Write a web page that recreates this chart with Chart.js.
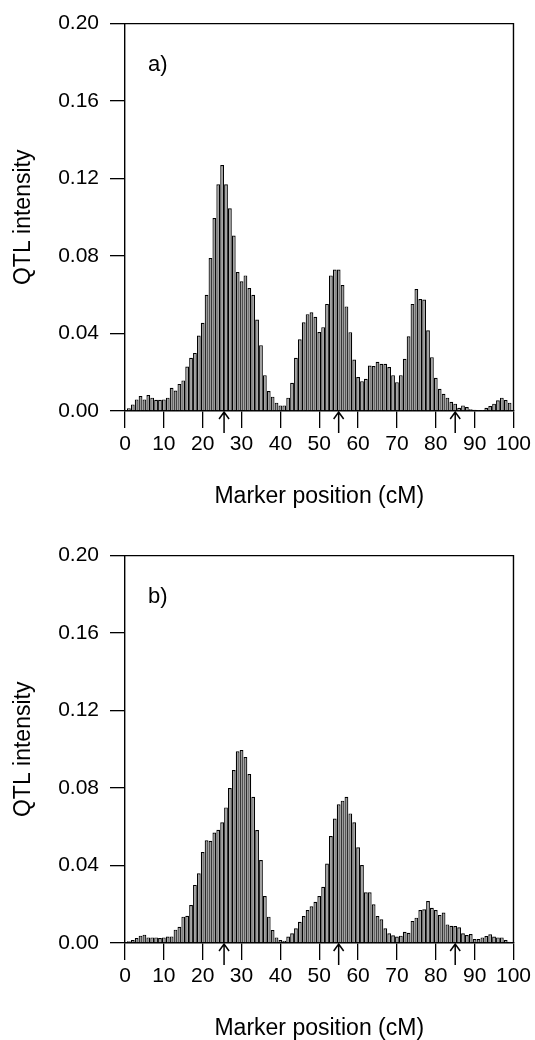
<!DOCTYPE html>
<html>
<head>
<meta charset="utf-8">
<script src="https://cdn.jsdelivr.net/npm/chart.js@4/dist/chart.umd.min.js"></script>
<style>
  html, body { margin: 0; padding: 0; background: #fff; overflow: hidden; }
  canvas { display: block; }
</style>
</head>
<body>
<canvas id="panel-a" width="535" height="532"></canvas>
<canvas id="panel-b" width="535" height="532"></canvas>
<script>
// Marker positions (cM), one bar per position
const positions = [
  1, 2, 3, 4, 5, 6, 7, 8, 9, 10, 11, 12, 13, 14, 15, 16, 17, 18, 19, 20,
  21, 22, 23, 24, 25, 26, 27, 28, 29, 30, 31, 32, 33, 34, 35, 36, 37, 38, 39, 40,
  41, 42, 43, 44, 45, 46, 47, 48, 49, 50, 51, 52, 53, 54, 55, 56, 57, 58, 59, 60,
  61, 62, 63, 64, 65, 66, 67, 68, 69, 70, 71, 72, 73, 74, 75, 76, 77, 78, 79, 80,
  81, 82, 83, 84, 85, 86, 87, 88, 89, 90, 91, 92, 93, 94, 95, 96, 97, 98, 99
];

// Panel a) QTL intensity
const intensityA = [
  0.0014, 0.0034, 0.0060, 0.0077, 0.0060, 0.0082, 0.0069, 0.0058, 0.0058, 0.0060,
  0.0069, 0.0120, 0.0106, 0.0140, 0.0158, 0.0230, 0.0275, 0.0300, 0.0390, 0.0455,
  0.0600, 0.0790, 0.0996, 0.1170, 0.1270, 0.1170, 0.1047, 0.0906, 0.0717, 0.0670,
  0.0700, 0.0635, 0.0600, 0.0472, 0.0340, 0.0185, 0.0103, 0.0074, 0.0043, 0.0029,
  0.0029, 0.0069, 0.0146, 0.0275, 0.0370, 0.0458, 0.0500, 0.0510, 0.0486, 0.0408,
  0.0433, 0.0553, 0.0700, 0.0730, 0.0730, 0.0650, 0.0540, 0.0407, 0.0266, 0.0175,
  0.0154, 0.0166, 0.0235, 0.0232, 0.0254, 0.0244, 0.0244, 0.0227, 0.0185, 0.0149,
  0.0185, 0.0270, 0.0386, 0.0553, 0.0630, 0.0578, 0.0575, 0.0417, 0.0278, 0.0172,
  0.0115, 0.0089, 0.0069, 0.0048, 0.0038, 0.0017, 0.0029, 0.0021, 0.0009, 0.0007,
  0.0003, 0.0003, 0.0017, 0.0026, 0.0038, 0.0055, 0.0069, 0.0057, 0.0043
];

// Panel b) QTL intensity
const intensityB = [
  0.0009, 0.0015, 0.0026, 0.0038, 0.0043, 0.0029, 0.0029, 0.0029, 0.0026, 0.0029,
  0.0033, 0.0034, 0.0069, 0.0084, 0.0136, 0.0141, 0.0196, 0.0300, 0.0360, 0.0470,
  0.0530, 0.0528, 0.0570, 0.0585, 0.0623, 0.0700, 0.0800, 0.0893, 0.0990, 0.0996,
  0.0960, 0.0872, 0.0755, 0.0583, 0.0428, 0.0243, 0.0136, 0.0067, 0.0029, 0.0015,
  0.0012, 0.0033, 0.0050, 0.0076, 0.0110, 0.0139, 0.0170, 0.0190, 0.0213, 0.0243,
  0.0290, 0.0410, 0.0552, 0.0643, 0.0716, 0.0735, 0.0755, 0.0669, 0.0623, 0.0494,
  0.0403, 0.0262, 0.0262, 0.0200, 0.0139, 0.0122, 0.0076, 0.0050, 0.0040, 0.0033,
  0.0038, 0.0058, 0.0053, 0.0114, 0.0131, 0.0170, 0.0174, 0.0217, 0.0182, 0.0170,
  0.0145, 0.0157, 0.0096, 0.0089, 0.0088, 0.0081, 0.0050, 0.0041, 0.0046, 0.0021,
  0.0021, 0.0029, 0.0036, 0.0045, 0.0033, 0.0029, 0.0029, 0.0015, 0.0007
];

const xTicks = [0, 10, 20, 30, 40, 50, 60, 70, 80, 90, 100];
const yTicks = [0, 0.04, 0.08, 0.12, 0.16, 0.20];
// True QTL positions marked with arrows under the axis
const qtlPositions = [25.5, 55, 85];

const FONT = '"Liberation Sans", Arial, Helvetica, sans-serif';

// frame, arrows and panel letter
const panelDecor = {
  id: 'panelDecor',
  afterDraw(chart, args, opts) {
    const { ctx, chartArea } = chart;
    const x = chart.scales.x;
    ctx.save();
    ctx.strokeStyle = '#000';
    ctx.lineWidth = 1.4;
    ctx.beginPath();
    ctx.moveTo(chartArea.left, chartArea.top);
    ctx.lineTo(chartArea.right, chartArea.top);
    ctx.lineTo(chartArea.right, chartArea.bottom);
    ctx.stroke();

    ctx.lineWidth = 1.5;
    opts.arrows.forEach(p => {
      const px = x.getPixelForValue(p);
      const b = chartArea.bottom;
      ctx.beginPath();
      ctx.moveTo(px, b + 22);
      ctx.lineTo(px, b + 1);
      ctx.moveTo(px - 5, b + 8);
      ctx.lineTo(px, b + 1);
      ctx.lineTo(px + 5, b + 8);
      ctx.stroke();
    });

    ctx.fillStyle = '#000';
    ctx.font = '22px ' + FONT;
    ctx.textAlign = 'left';
    ctx.textBaseline = 'middle';
    ctx.fillText(opts.label, chartArea.left + 23, chartArea.top + 41);
    ctx.restore();
  }
};

function buildPanel(canvasId, values, label) {
  const ctx = document.getElementById(canvasId);
  return new Chart(ctx, {
    type: 'bar',
    data: {
      datasets: [{
        data: positions.map((p, i) => ({ x: p, y: values[i] })),
        backgroundColor: '#9c9c9c',
        borderColor: '#000',
        borderWidth: 1.2,
        barPercentage: 0.97,
        categoryPercentage: 1.0
      }]
    },
    options: {
      responsive: false,
      animation: false,
      layout: { padding: { top: 22.5, right: 20, left: 0, bottom: 0 } },
      plugins: {
        legend: { display: false },
        tooltip: { enabled: false },
        panelDecor: { arrows: qtlPositions, label: label }
      },
      scales: {
        x: {
          type: 'linear',
          min: 0,
          max: 100,
          offset: false,
          afterBuildTicks: (scale) => { scale.ticks = xTicks.map(v => ({ value: v })); },
          afterFit: (scale) => { scale.height = 121; },
          ticks: {
            color: '#000',
            font: { family: FONT, size: 21 },
            padding: 4,
            maxRotation: 0,
            autoSkip: false
          },
          grid: {
            offset: false,
            drawOnChartArea: false,
            drawTicks: true,
            tickLength: 17,
            color: '#000',
            lineWidth: 1.3
          },
          border: { display: true, color: '#000', width: 1.4 },
          title: {
            display: true,
            text: 'Marker position (cM)',
            color: '#000',
            font: { family: FONT, size: 23 },
            padding: { top: 0, bottom: 22 }
          }
        },
        y: {
          min: 0,
          max: 0.20,
          afterBuildTicks: (scale) => { scale.ticks = yTicks.map(v => ({ value: v })); },
          afterFit: (scale) => { scale.width = 125; },
          ticks: {
            color: '#000',
            font: { family: FONT, size: 21 },
            padding: 11,
            callback: (v) => v.toFixed(2)
          },
          grid: {
            drawOnChartArea: false,
            drawTicks: true,
            tickLength: 15,
            color: '#000',
            lineWidth: 1.3
          },
          border: { display: true, color: '#000', width: 1.4 },
          title: {
            display: true,
            text: 'QTL intensity',
            color: '#000',
            font: { family: FONT, size: 23 },
            padding: { top: 10, bottom: 0 }
          }
        }
      }
    },
    plugins: [panelDecor]
  });
}

buildPanel('panel-a', intensityA, 'a)');
buildPanel('panel-b', intensityB, 'b)');
</script>
</body>
</html>
